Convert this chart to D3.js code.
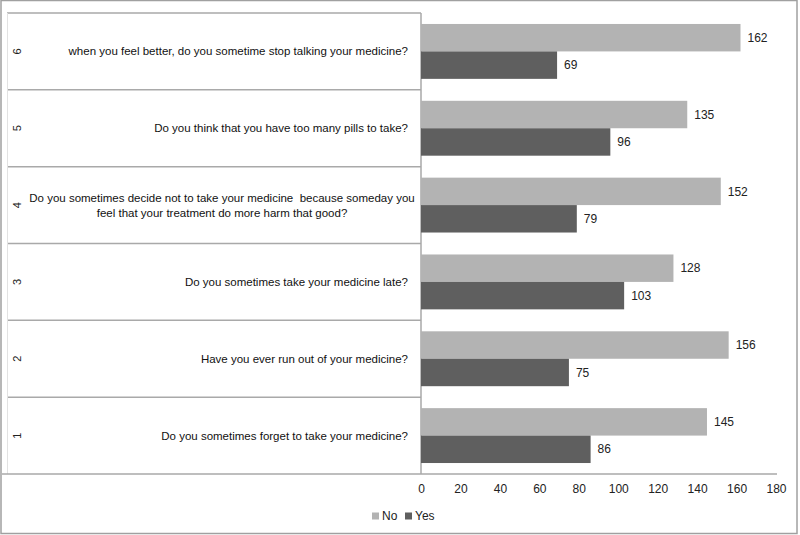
<!DOCTYPE html>
<html>
<head>
<meta charset="utf-8">
<script src="https://cdn.jsdelivr.net/npm/d3@7"></script>
<style>
  body { margin: 0; background: #fff; }
  svg { display: block; font-family: 'Liberation Sans', Arial, sans-serif; }
  text.q { white-space: pre; }
</style>
</head>
<body>
<svg id="chart"></svg>
<script>
let d3 = window.d3

// row ids, bottom to top as in the source
let rowIds = ['1', '2', '3', '4', '5', '6']
let questions = [
  ['Do you sometimes forget to take your medicine?'],
  ['Have you ever run out of your medicine?'],
  ['Do you sometimes take your medicine late?'],
  ['Do you sometimes decide not to take your medicine  because someday you', 'feel that your treatment do more harm that good?'],
  ['Do you think that you have too many pills to take?'],
  ['when you feel better, do you sometime stop talking your medicine?']
]
let noValues = [145, 156, 128, 152, 135, 162]
let yesValues = [86, 75, 103, 79, 96, 69]
let seriesNames = ['No', 'Yes']
let seriesColors = ['#b3b3b3', '#5f5f5f']
let xTicks = [0, 20, 40, 60, 80, 100, 120, 140, 160, 180]

let width = 800
let height = 535
let lineColor = '#a9a9a9'

let svg = d3.select('#chart')
  .attr('width', width)
  .attr('height', height)

// outer frame
svg.append('rect')
  .attr('x', 1)
  .attr('y', 0.5)
  .attr('width', 796)
  .attr('height', 533)
  .attr('fill', 'none')
  .attr('stroke', '#a0a0a0')
  .attr('stroke-width', 1.5)

let x = d3.scaleLinear()
  .domain([0, 180])
  .range([421, 776])

let y = d3.scaleBand()
  .domain(rowIds.slice().reverse())
  .range([13, 474])
  .padding(0)

let ySeries = d3.scaleBand()
  .domain(seriesNames)
  .range([0, y.bandwidth()])
  .paddingInner(0)
  .paddingOuter(0.4)

let rows = rowIds.map(function (id, i) {
  return { id: id, lines: questions[i], values: [noValues[i], yesValues[i]] }
})

// table lines on the left
let grid = svg.append('g').attr('class', 'table')
grid.selectAll('line.row')
  .data(rowIds)
  .enter()
  .append('line')
  .attr('class', 'row')
  .attr('x1', 7)
  .attr('x2', 421)
  .attr('y1', function (d) { return y(d) })
  .attr('y2', function (d) { return y(d) })
  .attr('stroke', lineColor)
  .attr('stroke-width', 1.5)

grid.append('line')
  .attr('x1', 7.5).attr('x2', 7.5)
  .attr('y1', y.range()[0]).attr('y2', y.range()[1])
  .attr('stroke', '#e2e2e2')

grid.append('line')
  .attr('x1', x(0)).attr('x2', x(0))
  .attr('y1', y.range()[0]).attr('y2', y.range()[1])
  .attr('stroke', lineColor)
  .attr('stroke-width', 1.5)

// row numbers, rotated
grid.selectAll('text.num')
  .data(rows)
  .enter()
  .append('text')
  .attr('class', 'num')
  .attr('transform', function (d) {
    return 'translate(17,' + (y(d.id) + y.bandwidth() / 2) + ') rotate(-90)'
  })
  .attr('text-anchor', 'middle')
  .attr('dy', '0.35em')
  .attr('font-size', 11)
  .attr('fill', '#222')
  .text(function (d) { return d.id })

// question text
let q = grid.selectAll('text.q')
  .data(rows)
  .enter()
  .append('text')
  .attr('class', 'q')
  .attr('font-size', 11.5)
  .attr('fill', '#111')
  .attr('text-anchor', function (d) { return d.lines.length > 1 ? 'middle' : 'end' })
  .attr('x', function (d) { return d.lines.length > 1 ? 222 : 408 })
  .attr('y', function (d) { return y(d.id) + y.bandwidth() / 2 })

q.selectAll('tspan')
  .data(function (d) {
    return d.lines.map(function (l, j) { return { text: l, n: d.lines.length, j: j, x: d.lines.length > 1 ? 222 : 408 } })
  })
  .enter()
  .append('tspan')
  .attr('x', function (d) { return d.x })
  .attr('dy', function (d) {
    if (d.n === 1) return '0.35em'
    return d.j === 0 ? (0.35 - 0.65) + 'em' : '1.3em'
  })
  .text(function (d) { return d.text })

// bars
let groups = svg.selectAll('g.group')
  .data(rows)
  .enter()
  .append('g')
  .attr('class', 'group')
  .attr('transform', function (d) { return 'translate(0,' + y(d.id) + ')' })

groups.selectAll('rect')
  .data(function (d) { return d.values.map(function (v, k) { return { key: seriesNames[k], value: v, k: k } }) })
  .enter()
  .append('rect')
  .attr('x', x(0))
  .attr('y', function (d) { return ySeries(d.key) })
  .attr('width', function (d) { return x(d.value) - x(0) })
  .attr('height', ySeries.bandwidth())
  .attr('fill', function (d) { return seriesColors[d.k] })

groups.selectAll('text')
  .data(function (d) { return d.values.map(function (v, k) { return { key: seriesNames[k], value: v } }) })
  .enter()
  .append('text')
  .attr('x', function (d) { return x(d.value) + 7 })
  .attr('y', function (d) { return ySeries(d.key) + ySeries.bandwidth() / 2 })
  .attr('dy', '0.35em')
  .attr('font-size', 12)
  .attr('fill', '#222')
  .text(function (d) { return d.value })

// x axis
let xAxis = d3.axisBottom(x)
  .tickValues(xTicks)
  .tickSize(0)
  .tickPadding(10)

let axisG = svg.append('g')
  .attr('class', 'x axis')
  .attr('transform', 'translate(0,' + y.range()[1] + ')')
  .call(xAxis)

axisG.select('.domain').remove()
axisG.selectAll('text')
  .attr('font-family', "'Liberation Sans', Arial, sans-serif")
  .attr('font-size', 12)
  .attr('fill', '#222')

svg.append('line')
  .attr('x1', 2).attr('x2', 777)
  .attr('y1', y.range()[1]).attr('y2', y.range()[1])
  .attr('stroke', lineColor)
  .attr('stroke-width', 1.5)

// legend
let legend = svg.append('g')
  .attr('class', 'legend')
  .attr('transform', 'translate(372,516)')

let legendX = [0, 33]
let items = legend.selectAll('g')
  .data(seriesNames)
  .enter()
  .append('g')
  .attr('transform', function (d, i) { return 'translate(' + legendX[i] + ',0)' })

items.append('rect')
  .attr('x', 0)
  .attr('y', -3.5)
  .attr('width', 7)
  .attr('height', 7)
  .attr('fill', function (d, i) { return seriesColors[i] })

items.append('text')
  .attr('x', 10)
  .attr('dy', '0.35em')
  .attr('font-size', 12)
  .attr('fill', '#222')
  .text(function (d) { return d })
</script>
</body>
</html>
